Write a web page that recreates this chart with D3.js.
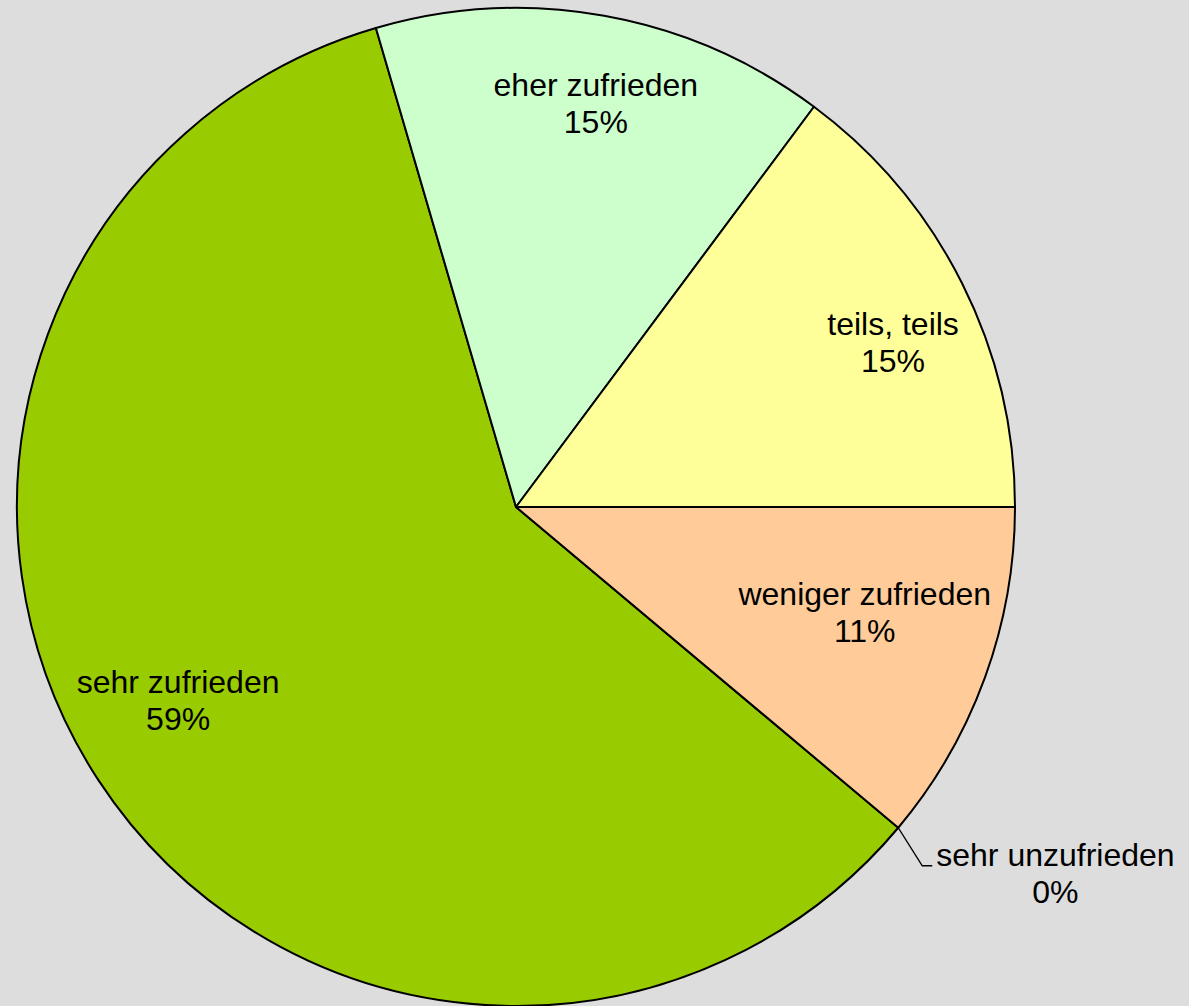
<!DOCTYPE html>
<html>
<head>
<meta charset="utf-8">
<script src="https://cdn.jsdelivr.net/npm/d3@7"></script>
<style>
  html, body { margin: 0; padding: 0; background: #dddddd; }
  svg text { font-family: "Liberation Sans", Arial, sans-serif; fill: #000; }
</style>
</head>
<body>
<div id="chart"></div>
<script>
// chart data
const categories = ['sehr zufrieden', 'eher zufrieden', 'teils, teils', 'weniger zufrieden', 'sehr unzufrieden'];
const shares = [59.3, 14.7, 14.8, 11.1, 0];
const sliceColors = ['#99cc00', '#ccffcc', '#ffff99', '#ffcc99', '#ff8080'];

// label placement (radius factor, angle nudge in degrees), layout only
const labelLayout = {
  'sehr zufrieden': [0.78, 3.4],
  'eher zufrieden': [0.825, 1.0],
  'teils, teils': [0.825, 3.0],
  'weniger zufrieden': [0.73, -3.2],
};

const width = 1189;
const height = 1006;
const cx = 516;
const cy = 507;
const radius = 499;
const fontSize = 32;
const lineGap = 37;

const data = categories.map((c, i) => ({ name: c, value: shares[i], color: sliceColors[i] }));
const total = d3.sum(shares);
const pct = d3.format('.0%');

// the boundary between "teils, teils" and "weniger zufrieden" sits at 3 o'clock
const before = d3.sum(shares.slice(0, 3));
const start = Math.PI / 2 - 2 * Math.PI * before / total;

const pie = d3.pie()
  .sort(null)
  .value((d) => d.value)
  .startAngle(start)
  .endAngle(start + 2 * Math.PI);

const arc = d3.arc().innerRadius(0).outerRadius(radius);

const svg = d3.select('#chart')
  .append('svg')
  .attr('width', width)
  .attr('height', height);

svg.append('rect')
  .attr('width', width)
  .attr('height', height)
  .attr('fill', '#dddddd');

const g = svg.append('g')
  .attr('transform', `translate(${cx},${cy})`);

const arcs = pie(data);

g.selectAll('path.slice')
  .data(arcs.filter((d) => d.value > 0))
  .enter()
  .append('path')
  .attr('class', 'slice')
  .attr('d', arc)
  .attr('fill', (d) => d.data.color)
  .attr('stroke', '#000')
  .attr('stroke-width', 2)
  .attr('stroke-linejoin', 'round');

// inside labels
arcs.forEach((d) => {
  const layout = labelLayout[d.data.name];
  if (!layout) return;
  const a = (d.startAngle + d.endAngle) / 2 + layout[1] * Math.PI / 180;
  const r = radius * layout[0];
  const x = Math.sin(a) * r;
  const y = -Math.cos(a) * r;
  const t = g.append('text')
    .attr('text-anchor', 'middle')
    .style('font-size', fontSize + 'px');
  t.append('tspan').attr('x', x).attr('y', y - 7).text(d.data.name);
  t.append('tspan').attr('x', x).attr('y', y - 7 + lineGap).text(pct(d.data.value / total));
});

// outside label with leader line for the empty slice
arcs.filter((d) => !labelLayout[d.data.name]).forEach((d) => {
  const a = d.startAngle;
  const p0 = [Math.sin(a) * radius, -Math.cos(a) * radius];
  const p1 = [p0[0] + 24, p0[1] + 38];
  const p2 = [p1[0] + 10, p1[1]];
  g.append('path')
    .attr('d', d3.line()([p0, p1, p2]))
    .attr('fill', 'none')
    .attr('stroke', '#000')
    .attr('stroke-width', 1.4);

  const t = g.append('text')
    .attr('text-anchor', 'middle')
    .style('font-size', fontSize + 'px');
  const l1 = t.append('tspan').text(d.data.name);
  const w = l1.node().getComputedTextLength();
  const x = p2[0] + 4 + w / 2;
  l1.attr('x', x).attr('y', p2[1]);
  t.append('tspan').attr('x', x).attr('y', p2[1] + lineGap).text(pct(d.data.value / total));
});
</script>
</body>
</html>
